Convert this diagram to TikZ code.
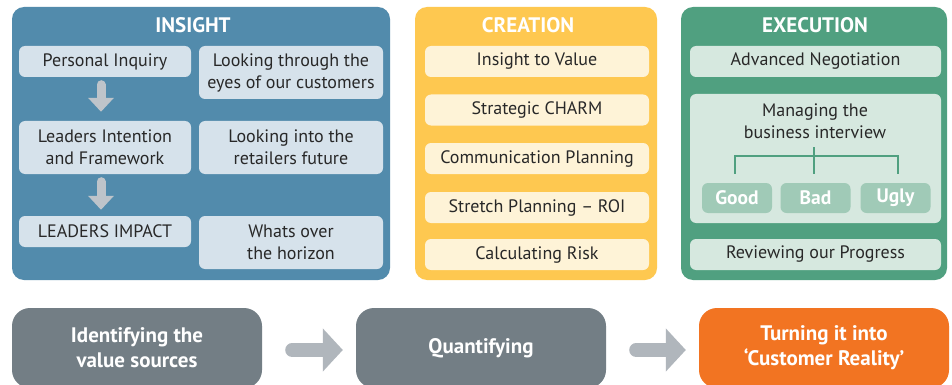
\documentclass[tikz,border=0pt]{standalone}
\usepackage{fontspec}
\setmainfont{PT Sans}
\usetikzlibrary{positioning, arrows.meta}

\definecolor{insightblue}{RGB}{82,139,172}
\definecolor{insightbox}{RGB}{214,226,235}
\definecolor{creationyellow}{RGB}{254,200,80}
\definecolor{creationbox}{RGB}{254,243,215}
\definecolor{executiongreen}{RGB}{80,160,128}
\definecolor{executionbox}{RGB}{214,232,223}
\definecolor{leafgreen}{RGB}{160,202,183}
\definecolor{arrowgray}{RGB}{190,196,202}
\definecolor{stagegray}{RGB}{115,126,133}
\definecolor{stageorange}{RGB}{242,116,34}
\definecolor{stagearrowgray}{RGB}{176,182,188}
\definecolor{textdark}{RGB}{40,40,40}

\tikzset{
  panel/.style={rectangle, rounded corners=12pt, inner sep=0pt},
  paneltitle/.style={text=white, font=\fontsize{21}{24}\selectfont\bfseries},
  item/.style={rectangle, rounded corners=6pt, inner sep=0pt, align=center,
    text=textdark, font=\fontsize{18}{22}\selectfont},
  leaf/.style={rectangle, rounded corners=6pt, inner sep=0pt, fill=leafgreen,
    minimum width=70, minimum height=30, text=white,
    font=\fontsize{19.5}{22}\selectfont\bfseries},
  stage/.style={rectangle, rounded corners=18pt, inner sep=0pt, align=center,
    minimum width=250, minimum height=80, text=white,
    font=\fontsize{21}{25}\selectfont\bfseries},
  downarrow/.style={draw=arrowgray, line width=9pt, line cap=round,
    -{Triangle[width=25pt,length=14pt]}},
  stagearrow/.style={draw=stagearrowgray, line width=14pt, line cap=round,
    -{Triangle[width=42pt,length=20pt]}},
  branch/.style={draw=executiongreen, line width=2.5pt}
}

\begin{document}
\begin{tikzpicture}[x=1pt, y=-1pt]
  \useasboundingbox[fill=white] (0,0) rectangle (952,385);

  % INSIGHT
  \node[panel, fill=insightblue, minimum width=378, minimum height=273] (insight) at (201,143.5) {};
  \node[paneltitle] (ititle) at (193,25) {INSIGHT};
  \node[item, fill=insightbox, minimum width=172, minimum height=31] (pi) at (105,61.5) {Personal Inquiry};
  \node[item, fill=insightbox, minimum width=184, minimum height=53] (lte) at (291,72.5) {Looking through the\\eyes of our customers};
  \node[item, fill=insightbox, minimum width=172, minimum height=53] (lif) at (105,147.5) {Leaders Intention\\and Framework};
  \node[item, fill=insightbox, minimum width=184, minimum height=53] (lrf) at (291,147.5) {Looking into the\\retailers future};
  \node[item, fill=insightbox, minimum width=172, minimum height=31] (li) at (105,231.5) {LEADERS IMPACT};
  \node[item, fill=insightbox, minimum width=184, minimum height=53] (woh) at (291,242.5) {Whats over\\the horizon};
  \draw[downarrow] ([xshift=-4pt,yshift=-7.5pt]pi.south) -- ([xshift=-4pt,yshift=9pt]lif.north);
  \draw[downarrow] ([xshift=-4pt,yshift=-7.5pt]lif.south) -- ([xshift=-4pt,yshift=6pt]li.north);

  % CREATION
  \node[panel, fill=creationyellow, minimum width=242, minimum height=273] (creation) at (536,143.5) {};
  \node[paneltitle] (ctitle) at (528,25) {CREATION};
  \foreach \name/\y/\txt in {c1/61.5/Insight to Value, c2/110/Strategic CHARM,
      c3/158.5/Communication Planning, c4/207.5/Stretch Planning – ROI, c5/254.5/Calculating Risk}
  {
    \node[item, fill=creationbox, minimum width=224, minimum height=31] (\name) at (537,\y) {\txt};
  }

  % EXECUTION
  \node[panel, fill=executiongreen, minimum width=266, minimum height=273] (execution) at (814,143.5) {};
  \node[paneltitle] (etitle) at (815,25) {EXECUTION};
  \node[item, fill=executionbox, minimum width=251, minimum height=31] (an) at (815.5,61.5) {Advanced Negotiation};
  \node[item, fill=executionbox, minimum width=251, minimum height=129] (mbox) at (815.5,158.5) {};
  \node[item] (mbi) at (815,121.5) {Managing the\\business interview};
  \node[leaf] (good) at (737,198) {Good};
  \node[leaf] (bad) at (815.5,198) {Bad};
  \node[leaf] (ugly) at (895.5,198) {Ugly};
  \draw[branch] ([xshift=-2pt,yshift=9pt]good.north) |- ([xshift=-1.5pt,yshift=27pt]bad.north) -| ([xshift=2.5pt,yshift=9pt]ugly.north);
  \draw[branch] ([xshift=-1.5pt,yshift=9pt]bad.north) -- ([xshift=-1.5pt,yshift=36pt]bad.north);
  \node[item, fill=executionbox, minimum width=251, minimum height=31] (rp) at (815.5,254.5) {Reviewing our Progress};

  % stages
  \node[stage, fill=stagegray] (idv) at (137,348) {Identifying the\\value sources};
  \node[stage, fill=stagegray] (qua) at (481,348) {Quantifying};
  \node[stage, fill=stageorange] (ctr) at (824,348) {Turning it into\\‘Customer Reality’};
  \draw[stagearrow] ([xshift=30pt,yshift=-2pt]idv.east) -- ([xshift=-13pt,yshift=-2pt]qua.west);
  \draw[stagearrow] ([xshift=30pt,yshift=-2pt]qua.east) -- ([xshift=-13pt,yshift=-2pt]ctr.west);
\end{tikzpicture}
\end{document}
